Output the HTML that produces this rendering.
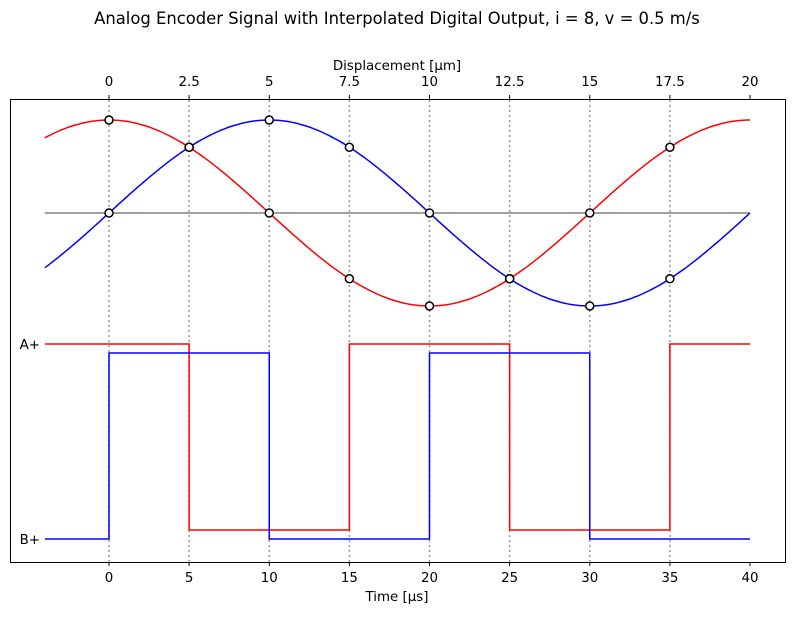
<!DOCTYPE html>
<html><head><meta charset="utf-8"><style>
body{margin:0;background:#fff}
text{font-family:"DejaVu Sans","Liberation Sans",sans-serif;font-size:13.4px;fill:#000}
</style></head><body>
<svg id="s" width="794" height="614" xmlns="http://www.w3.org/2000/svg">
<text x="397" y="24" text-anchor="middle" style="font-size:16.4px">Analog Encoder Signal with Interpolated Digital Output, i = 8, v = 0.5 m/s</text>
<text x="397" y="70" text-anchor="middle">Displacement [µm]</text>
<text x="397" y="601" text-anchor="middle">Time [µs]</text>
<g id="g"></g>
<rect x="10.5" y="99.5" width="775" height="463" fill="none" stroke="#000" stroke-width="1"/>
<text x="40" y="349" text-anchor="end">A+</text>
<text x="40" y="544" text-anchor="end">B+</text>
</svg>
<script>
const X=t=>109+16.025*t, C=213, A=93;
const red=t=>C-A*Math.cos(2*Math.PI*t/40), blue=t=>C-A*Math.sin(2*Math.PI*t/40);
let h='';
for(let i=0;i<=8;i++){const t=i*5,x=X(t).toFixed(1);
 if(i<8)h+=`<line x1="${x}" x2="${x}" y1="100" y2="562" stroke="#999" stroke-width="1.5" stroke-dasharray="2,3"/>`;
 h+=`<line x1="${x}" x2="${x}" y1="562" y2="566" stroke="#000"/><text x="${x}" y="582" text-anchor="middle">${t}</text>`;
 h+=`<line x1="${x}" x2="${x}" y1="95" y2="99" stroke="#000"/><text x="${x}" y="86" text-anchor="middle">${t/2}</text>`;}
h+=`<line x1="${X(-4)}" x2="${X(40)}" y1="${C}" y2="${C}" stroke="#808080" stroke-width="1.5"/>`;
function path(f,c){let d='';for(let t=-4;t<=40.001;t+=0.2)d+=(d?'L':'M')+X(t).toFixed(1)+','+f(t).toFixed(1);
 return `<path d="${d}" fill="none" stroke="${c}" stroke-width="1.5"/>`;}
h+=path(red,'red')+path(blue,'blue');
function step(pts,c){let d='M'+X(-4)+','+pts[0][1];for(let i=1;i<pts.length;i++){d+='L'+X(pts[i][0])+','+pts[i-1][1]+'L'+X(pts[i][0])+','+pts[i][1];}d+='L'+X(40)+','+pts[pts.length-1][1];
 return `<path d="${d}" fill="none" stroke="${c}" stroke-width="1.5"/>`;}
h+=step([[-4,344],[5,530],[15,344],[25,530],[35,344]],'red');
h+=step([[-4,539],[0,353],[10,539],[20,353],[30,539]],'blue');
for(let i=0;i<8;i++){const t=i*5;
 h+=`<circle cx="${X(t)}" cy="${red(t)}" r="4" fill="#fff" stroke="#000" stroke-width="1.5"/>`;
 h+=`<circle cx="${X(t)}" cy="${blue(t)}" r="4" fill="#fff" stroke="#000" stroke-width="1.5"/>`;}
document.getElementById('g').innerHTML=h;
</script>
</body></html>
